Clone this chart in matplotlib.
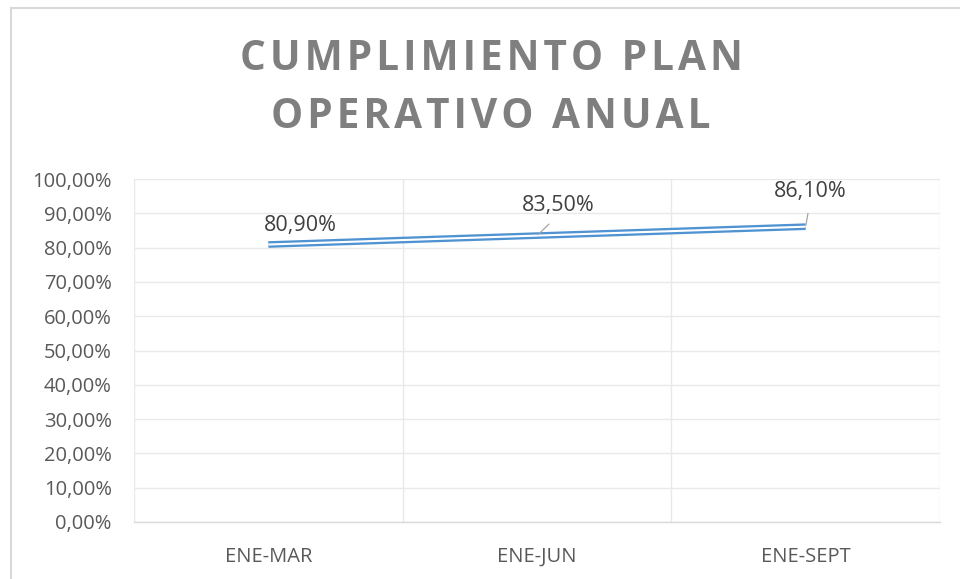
import matplotlib
matplotlib.use("Agg")
import matplotlib.pyplot as plt
from matplotlib.lines import Line2D
from matplotlib.ticker import FuncFormatter, FixedLocator

categories = ["ENE-MAR", "ENE-JUN", "ENE-SEPT"]
values = [80.90, 83.50, 86.10]
data_labels = ["80,90%", "83,50%", "86,10%"]
title_lines = ["CUMPLIMIENTO PLAN", "OPERATIVO ANUAL"]

FONT = "Open Sans"
fig = plt.figure(figsize=(9.6, 5.79), dpi=100)
fig.patch.set_facecolor("white")

# chart border (top and left visible)
W, H = 960, 579
fig.add_artist(Line2D([11 / W, 11 / W], [0, 1 - 8 / H], transform=fig.transFigure,
                      color="#d9d9d9", lw=1.5))
fig.add_artist(Line2D([11 / W, 1], [1 - 8 / H, 1 - 8 / H], transform=fig.transFigure,
                      color="#d9d9d9", lw=1.5))

ax = fig.add_axes([134 / W, 57 / H, (940 - 134) / W, (522 - 179) / H])
x = list(range(len(categories)))

ax.plot(x, values, color="#4f93d2", lw=4.8, solid_capstyle="butt", zorder=3)
ax.plot(x, values, color="white", lw=1.5, solid_capstyle="butt", zorder=4)

ax.set_xlim(-0.5, len(categories) - 0.5)
ax.set_ylim(0, 100)
ax.set_yticks(range(0, 101, 10))
ax.yaxis.set_major_formatter(FuncFormatter(lambda v, p: f"{v:.2f}".replace(".", ",") + "%"))
ax.set_xticks(x)
ax.set_xticklabels(categories)
ax.xaxis.set_minor_locator(FixedLocator([i - 0.5 for i in range(len(categories) + 1)]))

ax.grid(axis="y", which="major", color="#e9e9e9", lw=1.0)
ax.grid(axis="x", which="minor", color="#e9e9e9", lw=1.0)
ax.set_axisbelow(True)
for s in ["top", "right", "left"]:
    ax.spines[s].set_visible(False)
ax.spines["bottom"].set_color("#d9d9d9")
ax.spines["bottom"].set_linewidth(1.0)
ax.tick_params(axis="both", which="both", length=0)
ax.tick_params(axis="y", pad=16, labelsize=14.5, labelcolor="#595959")
ax.tick_params(axis="x", pad=18, labelsize=14.5, labelcolor="#595959")
for lab in ax.get_xticklabels() + ax.get_yticklabels():
    lab.set_fontfamily(FONT)

offsets = [(23, 14), (15, 22), (3, 25)]
leaders = [False, True, True]
for xi, v, lab, off, ld in zip(x, values, data_labels, offsets, leaders):
    kw = {}
    if ld:
        kw["arrowprops"] = dict(arrowstyle="-", color="#a6a6a6", lw=0.9,
                                relpos=(0.5, 0.0), shrinkA=6, shrinkB=1)
    ax.annotate(lab, xy=(xi, v), xytext=off, textcoords="offset points",
                ha="center", va="center", fontsize=15.5, color="#404040",
                fontfamily=FONT, zorder=5, **kw)

# title with slight letter spacing (hair spaces between letters)
for line, ypix in zip(title_lines, [59, 117]):
    spaced = "\u200a".join(line)
    fig.text(491 / W, 1 - ypix / H, spaced, ha="center", va="center",
             fontsize=29.2, fontweight="bold", color="#7f7f7f",
             fontfamily=[FONT, "DejaVu Sans"])

fig.savefig("out.png", dpi=100, facecolor="white")
